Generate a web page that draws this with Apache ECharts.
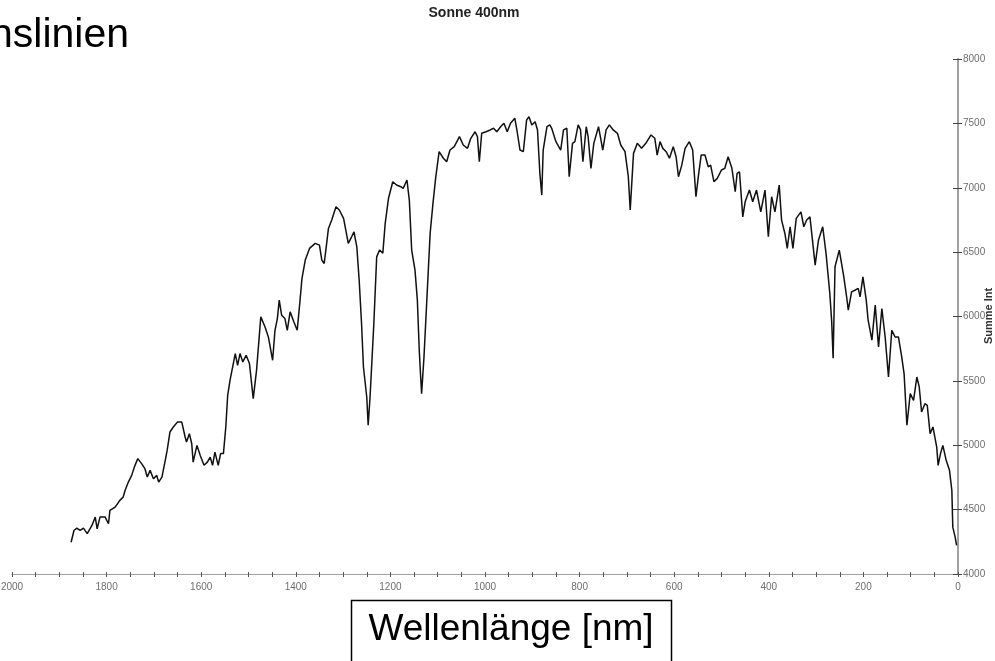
<!DOCTYPE html>
<html>
<head>
<meta charset="utf-8">
<title>Sonne 400nm</title>
<script src="https://cdn.jsdelivr.net/npm/echarts@6/dist/echarts.min.js"></script>
<style>
  html, body { margin: 0; padding: 0; background: #fff; }
  #chart { width: 995px; height: 661px; }
</style>
</head>
<body>
<div id="chart"></div>
<script>
// Solar spectrum, summed intensity against wavelength (nm)
const wavelengthNm = [
  1875, 1869, 1863, 1856, 1849, 1841, 1831, 1824, 1820, 1814, 1803, 1796, 1793, 1782, 1772, 1765,
  1761, 1754, 1747, 1740, 1734, 1726, 1719, 1714, 1708, 1701, 1694, 1690, 1683, 1676, 1672, 1666,
  1659, 1650, 1641, 1634, 1631, 1625, 1620, 1617, 1609, 1602, 1594, 1587, 1581, 1576, 1571, 1564,
  1559, 1553, 1548, 1544, 1539, 1528, 1523, 1518, 1512, 1505, 1498, 1490, 1483, 1474, 1465, 1458,
  1449, 1444, 1439, 1435, 1430, 1423, 1418, 1412, 1404, 1397, 1391, 1387, 1380, 1371, 1359, 1350,
  1345, 1340, 1336, 1331, 1324, 1315, 1308, 1299, 1289, 1282, 1277, 1271, 1266, 1261, 1257, 1250,
  1247, 1243, 1235, 1229, 1223, 1216, 1211, 1204, 1195, 1187, 1178, 1173, 1165, 1160, 1155, 1148,
  1143, 1139, 1136, 1134, 1129, 1123, 1116, 1110, 1104, 1097, 1088, 1081, 1074, 1065, 1054, 1046,
  1037, 1030, 1021, 1016, 1012, 1007, 998, 989, 982, 975, 967, 960, 953, 946, 937, 932,
  926, 919, 912, 907, 901, 894, 889, 884, 880, 877, 869, 863, 859, 850, 840, 834,
  827, 822, 815, 810, 803, 798, 793, 786, 782, 776, 770, 760, 751, 744, 737, 729,
  720, 713, 704, 697, 693, 686, 678, 669, 660, 649, 641, 636, 630, 624, 617, 610,
  602, 596, 591, 584, 577, 568, 561, 554, 549, 543, 535, 528, 523, 516, 509, 500,
  493, 486, 478, 471, 467, 462, 455, 450, 441, 434, 426, 417, 408, 401, 394, 387,
  378, 373, 366, 361, 355, 349, 342, 332, 326, 320, 313, 302, 295, 286, 279, 271,
  267, 264, 260, 251, 242, 235, 232, 225, 218, 211, 207, 201, 194, 190, 182, 175,
  168, 161, 154, 147, 140, 133, 126, 119, 114, 108, 101, 94, 87, 82, 77, 70,
  65, 59, 53, 45, 42, 37, 32, 25, 18, 13, 11, 6, 3
];

const intensity = [
  4247, 4338, 4356, 4338, 4356, 4313, 4377, 4442, 4351, 4442, 4442, 4390, 4494, 4519, 4572, 4597,
  4649, 4714, 4766, 4844, 4896, 4857, 4818, 4753, 4805, 4740, 4766, 4714, 4753, 4883, 4960, 5103,
  5142, 5180, 5180, 5064, 5025, 5090, 5012, 4869, 4999, 4921, 4844, 4869, 4908, 4844, 4947, 4844,
  4935, 4935, 5142, 5388, 5505, 5712, 5621, 5712, 5647, 5699, 5635, 5362, 5582, 5997, 5919, 5841,
  5660, 5893, 5984, 6127, 6010, 5984, 5893, 6036, 5958, 5893, 6127, 6295, 6438, 6529, 6568, 6554,
  6438, 6412, 6529, 6684, 6749, 6852, 6827, 6762, 6568, 6619, 6658, 6541, 6282, 5946, 5608, 5375,
  5155, 5375, 5946, 6463, 6516, 6492, 6723, 6918, 7047, 7021, 7008, 6995, 7060, 6904, 6516, 6360,
  6127, 5738, 5530, 5401, 5686, 6127, 6645, 6879, 7086, 7280, 7229, 7202, 7293, 7319, 7397, 7332,
  7306, 7384, 7435, 7397, 7202, 7423, 7435, 7449, 7462, 7435, 7474, 7501, 7435, 7501, 7540, 7435,
  7293, 7280, 7526, 7552, 7488, 7513, 7449, 7112, 6943, 7293, 7474, 7488, 7462, 7358, 7293, 7449,
  7462, 7086, 7345, 7358, 7488, 7449, 7202, 7474, 7397, 7151, 7345, 7474, 7293, 7449, 7488, 7449,
  7423, 7332, 7280, 7086, 6827, 7267, 7345, 7306, 7345, 7410, 7384, 7254, 7358, 7306, 7280, 7229,
  7319, 7241, 7086, 7176, 7306, 7358, 7293, 6930, 7086, 7254, 7254, 7163, 7176, 7047, 7073, 7138,
  7151, 7241, 7151, 6969, 7112, 7124, 6774, 6891, 6982, 6891, 6982, 6813, 6982, 6619, 6930, 6813,
  7021, 6749, 6645, 6529, 6697, 6529, 6762, 6813, 6697, 6749, 6774, 6399, 6593, 6697, 6490, 6179,
  5958, 5676, 6386, 6516, 6321, 6140, 6049, 6191, 6204, 6218, 6152, 6308, 6127, 5971, 5816, 6088,
  5764, 6062, 5841, 5530, 5893, 5841, 5841, 5686, 5557, 5155, 5401, 5349, 5530, 5453, 5258, 5323,
  5310, 5090, 5142, 4986, 4844, 4935, 4999, 4883, 4805, 4649, 4364, 4286, 4222
];

const chartTitle = 'Sonne 400nm';
const cornerText = 'nslinien';
const xAxisTitle = 'Wellenlänge [nm]';
const yAxisTitle = 'Summe Int';

const points = wavelengthNm.map((nm, i) => [nm, intensity[i]]);

const axisGrey = '#a0a0a0';
const labelGrey = '#6e6e6e';
const fontFamily = '"Liberation Sans", Arial, sans-serif';
const plainNumber = (v) => String(v);

const chart = echarts.init(document.getElementById('chart'), null, { renderer: 'canvas' });

const xBase = {
  type: 'value', min: 0, max: 2000, interval: 200, inverse: true,
  gridIndex: 0, position: 'bottom', splitLine: { show: false }
};
const yBase = {
  type: 'value', min: 4000, max: 8000, interval: 500,
  gridIndex: 0, position: 'right', splitLine: { show: false }
};

chart.setOption({
  animation: false,
  backgroundColor: '#ffffff',
  grid: {
    left: 12, right: 37, top: 59, bottom: 87,
    containLabel: false, outerBoundsMode: 'none'
  },
  xAxis: [
    Object.assign({}, xBase, {
      axisLine: { show: true, lineStyle: { color: axisGrey, width: 1.2 } },
      axisTick: { show: true, length: 3, lineStyle: { color: '#555', width: 1 } },
      minorTick: { show: true, splitNumber: 4, length: 3, lineStyle: { color: '#555', width: 1 } },
      axisLabel: {
        show: true, margin: 8, fontSize: 10, color: labelGrey, fontFamily: fontFamily,
        formatter: plainNumber
      }
    }),
    Object.assign({}, xBase, {
      axisLine: { show: false },
      axisTick: { show: true, inside: true, length: 2, lineStyle: { color: '#555', width: 1 } },
      minorTick: { show: true, splitNumber: 4, length: 2, lineStyle: { color: '#555', width: 1 } },
      axisLabel: { show: false }
    })
  ],
  yAxis: [
    Object.assign({}, yBase, {
      axisLine: { show: true, lineStyle: { color: axisGrey, width: 2 } },
      axisTick: { show: true, length: 4, lineStyle: { color: '#444', width: 1 } },
      axisLabel: {
        show: true, margin: 5, fontSize: 10, color: labelGrey, fontFamily: fontFamily,
        formatter: plainNumber
      }
    }),
    Object.assign({}, yBase, {
      axisLine: { show: false },
      axisTick: { show: true, inside: true, length: 5, lineStyle: { color: '#444', width: 1 } },
      axisLabel: { show: false }
    })
  ],
  series: [{
    type: 'line',
    xAxisIndex: 0,
    yAxisIndex: 0,
    data: points,
    showSymbol: false,
    smooth: false,
    lineStyle: { color: '#111111', width: 1.5 }
  }],
  graphic: [
    {
      type: 'text',
      style: {
        text: chartTitle, x: 474, y: 13, align: 'center', verticalAlign: 'middle',
        font: 'bold 14px ' + fontFamily, fill: '#222'
      }
    },
    {
      type: 'text',
      style: {
        text: cornerText, x: -10, y: 36, align: 'left', verticalAlign: 'middle',
        font: '41px ' + fontFamily, fill: '#000'
      }
    },
    {
      // vertical title of the intensity axis, reading upwards
      type: 'text',
      x: 989, y: 316, rotation: Math.PI / 2,
      style: {
        text: yAxisTitle, x: 0, y: 0, align: 'center', verticalAlign: 'middle',
        font: 'bold 11px ' + fontFamily, fill: '#333'
      }
    },
    {
      type: 'rect',
      shape: { x: 351.5, y: 600.5, width: 320, height: 80 },
      style: { fill: 'none', stroke: '#000', lineWidth: 1.5 }
    },
    {
      type: 'text',
      style: {
        text: xAxisTitle, x: 511, y: 630, align: 'center', verticalAlign: 'middle',
        font: '37px ' + fontFamily, fill: '#000'
      }
    }
  ]
});
</script>
</body>
</html>
